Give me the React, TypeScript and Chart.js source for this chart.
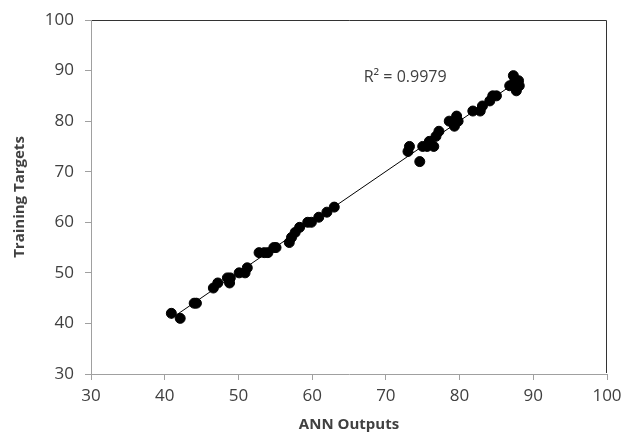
import React, { useEffect, useRef } from "react";
import { Chart, registerables } from "chart.js";
Chart.register(...registerables);

const annOutputs = [40.9, 42.1, 44.0, 44.3, 46.6, 47.2, 48.5, 48.8, 48.9, 50.1, 50.9, 51.2, 52.8, 53.5, 54.0, 54.8, 55.1, 56.9, 57.2, 57.7, 58.3, 59.4, 59.9, 60.9, 62.0, 63.0, 73.0, 73.2, 74.6, 75.0, 75.6, 75.9, 76.5, 76.8, 77.2, 78.6, 79.3, 79.6, 79.8, 81.8, 82.8, 83.1, 84.1, 84.5, 85.0, 86.8, 87.3, 87.5, 87.7, 88.0, 88.1];
const trainingTargets = [42, 41, 44, 44, 47, 48, 49, 48, 49, 50, 50, 51, 54, 54, 54, 55, 55, 56, 57, 58, 59, 60, 60, 61, 62, 63, 74, 75, 72, 75, 75, 76, 75, 77, 78, 80, 79, 81, 80, 82, 82, 83, 84, 85, 85, 87, 89, 88, 86, 88, 87];
const rSquaredLabel = "R² = 0.9979";
const labelAt = { x: 67.0, y: 88.7 };

const FONT = "'Open Sans', sans-serif";
const TEXT = "#404040";
const AXIS = "#a0a0a0";

export default function App() {
  const ref = useRef<HTMLCanvasElement>(null);
  useEffect(() => {
    const n = annOutputs.length;
    const mx = annOutputs.reduce((a, b) => a + b, 0) / n;
    const my = trainingTargets.reduce((a, b) => a + b, 0) / n;
    let sxy = 0, sxx = 0;
    for (let i = 0; i < n; i++) {
      sxy += (annOutputs[i] - mx) * (trainingTargets[i] - my);
      sxx += (annOutputs[i] - mx) ** 2;
    }
    const slope = sxy / sxx;
    const icpt = my - slope * mx;
    const xmin = Math.min(...annOutputs), xmax = Math.max(...annOutputs);
    const trend = [
      { x: xmin, y: icpt + slope * xmin },
      { x: xmax, y: icpt + slope * xmax },
    ];
    const pts = annOutputs.map((x, i) => ({ x, y: trainingTargets[i] }));

    const extras = {
      id: "extras",
      afterDraw(chart: any) {
        const { ctx, chartArea: a, scales } = chart;
        ctx.save();
        ctx.strokeStyle = "#333";
        ctx.lineWidth = 1;
        ctx.beginPath();
        ctx.moveTo(a.left + 1, a.top + 0.5);
        ctx.lineTo(a.right - 0.5, a.top + 0.5);
        ctx.lineTo(a.right - 0.5, a.bottom - 1);
        ctx.stroke();
        ctx.fillStyle = TEXT;
        ctx.font = `16px ${FONT}`;
        ctx.textBaseline = "middle";
        ctx.textAlign = "left";
        ctx.fillText(rSquaredLabel, scales.x.getPixelForValue(labelAt.x), scales.y.getPixelForValue(labelAt.y));
        ctx.restore();
      },
    };

    const chart = new Chart(ref.current!, {
      type: "scatter",
      data: {
        datasets: [
          {
            type: "line",
            data: trend,
            borderColor: "#000",
            borderWidth: 1,
            pointRadius: 0,
            order: 2,
          } as any,
          {
            data: pts,
            backgroundColor: "#000",
            borderColor: "#000",
            pointRadius: 5,
            pointHoverRadius: 5,
            order: 1,
          },
        ],
      },
      options: {
        animation: false,
        responsive: false,
        layout: { padding: { left: 0, right: 18, top: 20, bottom: 0 } },
        plugins: { legend: { display: false }, tooltip: { enabled: false } },
        scales: {
          x: {
            type: "linear",
            min: 30,
            max: 100,
            afterFit: (s: any) => { s.height = 64; s.paddingLeft = 0; s.paddingRight = 0; },
            ticks: { stepSize: 10, color: TEXT, font: { family: FONT, size: 17 }, padding: 6 },
            grid: { drawOnChartArea: false, drawTicks: true, tickLength: 6, color: AXIS },
            border: { color: AXIS },
            title: { display: true, text: "ANN Outputs", color: TEXT, font: { family: FONT, size: 15, weight: "bold" }, padding: { top: 0, bottom: 4 } },
          },
          y: {
            type: "linear",
            min: 30,
            max: 100,
            afterFit: (s: any) => { s.width = 91; s.paddingTop = 0; s.paddingBottom = 0; },
            ticks: { stepSize: 10, color: TEXT, font: { family: FONT, size: 17 }, padding: 11 },
            grid: { drawOnChartArea: false, drawTicks: true, tickLength: 6, color: AXIS },
            border: { color: AXIS },
            title: { display: true, text: "Training Targets", color: TEXT, font: { family: FONT, size: 15, weight: "bold" }, padding: { top: 11, bottom: 0 } },
          },
        },
      },
      plugins: [extras],
    });
    return () => chart.destroy();
  }, []);
  return (
    <div style={{ position: "fixed", left: 0, top: 0, width: 625, height: 438, background: "#fff" }}>
      <canvas ref={ref} width={625} height={438} />
    </div>
  );
}
